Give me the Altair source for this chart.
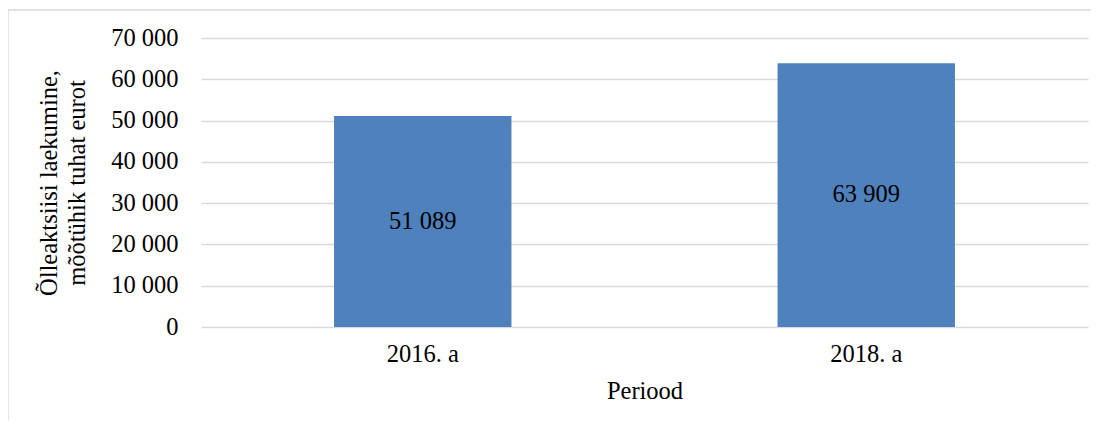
import altair as alt
import pandas as pd

periods = ["2016. a", "2018. a"]
values = [51089, 63909]
y_ticks = [0, 10000, 20000, 30000, 40000, 50000, 60000, 70000]

FONT = "Liberation Serif"
BLUE = "#4F81BD"
GRID = "#D9D9D9"
FS = 24.5

df = pd.DataFrame({"periood": periods, "vaartus": values})

W, H = 887, 289

base = alt.Chart(df)

bars = base.mark_bar(color=BLUE).encode(
    x=alt.X(
        "periood:N",
        sort=periods,
        title="Periood",
        scale=alt.Scale(paddingInner=0.6, paddingOuter=0.3),
        axis=alt.Axis(
            labelAngle=0,
            ticks=False,
            tickSize=0,
            domain=False,
            grid=False,
            labelPadding=15,
            titlePadding=14,
        ),
    ),
    y=alt.Y(
        "vaartus:Q",
        title=["Õlleaktsiisi laekumine,", "mõõtühik tuhat eurot"],
        scale=alt.Scale(domain=[0, 70000], nice=False),
        axis=alt.Axis(
            values=y_ticks,
            format=",d",
            ticks=False,
            tickSize=0,
            domain=False,
            grid=True,
            gridColor=GRID,
            gridWidth=1.3,
            labelPadding=23,
            titlePadding=21,
            titleLineHeight=28,
        ),
    ),
)

labels = base.transform_calculate(mid="datum.vaartus / 2").mark_text(
    font=FONT, fontSize=FS, color="#000000", baseline="middle", align="center"
).encode(
    x=alt.X("periood:N", sort=periods),
    y=alt.Y("mid:Q"),
    text=alt.Text("vaartus:Q", format=",d"),
)

frame = alt.Chart(pd.DataFrame({"k": [0]})).mark_rect(
    filled=False, stroke=GRID, strokeWidth=1.3
).encode(
    x=alt.value(-193),
    x2=alt.value(W + 40),
    y=alt.value(-28),
    y2=alt.value(H + 200),
)

chart = alt.layer(frame, bars, labels).properties(
    width=W,
    height=H,
    autosize=alt.AutoSizeParams(type="none"),
    padding={"left": 193, "top": 30, "right": 3, "bottom": 94},
).configure_view(stroke=None).configure_axis(
    labelFont=FONT,
    titleFont=FONT,
    labelFontSize=FS,
    titleFontSize=FS,
    labelColor="#000000",
    titleColor="#000000",
    titleFontWeight="normal",
)

chart.save(
    "out.html",
    embed_options={
        "renderer": "svg",
        "actions": False,
        "formatLocale": {
            "decimal": ",",
            "thousands": " ",
            "grouping": [3],
            "currency": ["", " €"],
        },
    },
)
